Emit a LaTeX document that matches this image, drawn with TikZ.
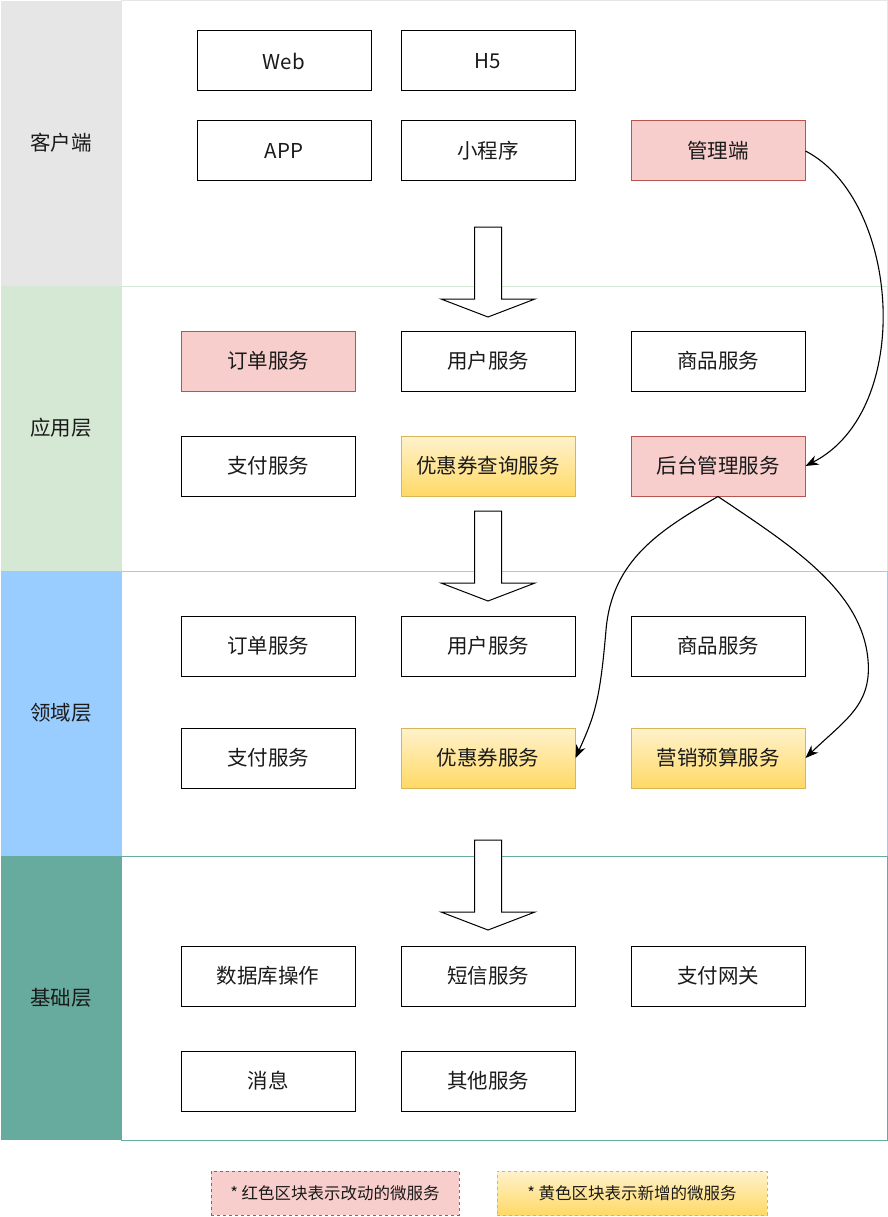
\documentclass[tikz,border=0pt]{standalone}
\usepackage{fontspec}
\setmainfont{Noto Sans CJK SC}
\usetikzlibrary{arrows.meta}
\definecolor{clientgray}{HTML}{E6E6E6}
\definecolor{appgreen}{HTML}{D5E8D4}
\definecolor{domainblue}{HTML}{99CCFF}
\definecolor{basegreen}{HTML}{67AB9F}
\definecolor{redfill}{HTML}{F8CECC}
\definecolor{redline}{HTML}{B85450}
\definecolor{yeltop}{HTML}{FFF2CC}
\definecolor{yelbot}{HTML}{FFD966}
\definecolor{yelline}{HTML}{D6B656}
\definecolor{txt}{HTML}{1A1A1A}

\tikzset{
  svc/.style={draw=black, line width=1pt, fill=white, minimum width=174pt,
    minimum height=60pt, inner sep=0pt, text=txt, font=\fontsize{20.5}{24}\selectfont},
  changed/.style={svc, draw=redline, fill=redfill},
  added/.style={svc, draw=yelline, top color=yeltop, bottom color=yelbot},
  layertitle/.style={text=txt, font=\fontsize{20.5}{24}\selectfont},
  legend/.style={draw, dashed, line width=0.8pt, minimum height=44pt, inner xsep=8pt,
    text=txt, font=\fontsize{16.5}{19}\selectfont},
  link/.style={line width=1.1pt, -{Stealth[length=13pt, width=10pt]}},
}

\begin{document}
\begin{tikzpicture}[x=1pt, y=-1pt]
\useasboundingbox (0,0) rectangle (888,1217);

% Layers: label column + content area
\foreach \ytop/\ybot/\col in {1/286/clientgray, 286/571/appgreen, 571/856/domainblue, 856/1140/basegreen} {
  \fill[\col] (1,\ytop) rectangle (121,\ybot);
  \draw[\col, line width=1pt] (121,\ytop) rectangle (887,\ybot);
}
\node[layertitle] (lclient) at (61,143) {客户端};
\node[layertitle] (lapp)    at (61,428) {应用层};
\node[layertitle] (ldomain) at (61,713) {领域层};
\node[layertitle] (lbase)   at (61,998) {基础层};

% Client
\node[svc] (web)   at (284,61)  {Web};
\node[svc] (h5)    at (488,61)  {H5};
\node[svc] (app)   at (284,151) {APP};
\node[svc] (mini)  at (488,151) {小程序};
\node[changed] (admin) at (718,151) {管理端};

% Application layer
\node[changed] (aorder) at (268,361) {订单服务};
\node[svc] (auser)  at (488,361) {用户服务};
\node[svc] (agoods) at (718,361) {商品服务};
\node[svc] (apay)   at (268,466) {支付服务};
\node[added] (aquery) at (488,466) {优惠券查询服务};
\node[changed] (backend) at (718,466) {后台管理服务};

% Domain layer
\node[svc] (dorder) at (268,646) {订单服务};
\node[svc] (duser)  at (488,646) {用户服务};
\node[svc] (dgoods) at (718,646) {商品服务};
\node[svc] (dpay)   at (268,758) {支付服务};
\node[added] (coupon) at (488,758) {优惠券服务};
\node[added] (budget) at (718,758) {营销预算服务};

% Base layer
\node[svc] (db)    at (268,976)  {数据库操作};
\node[svc] (sms)   at (488,976)  {短信服务};
\node[svc] (gate)  at (718,976)  {支付网关};
\node[svc] (msg)   at (268,1081) {消息};
\node[svc] (other) at (488,1081) {其他服务};

% Hollow arrows between layers
\foreach \t in {227, 511, 840} {
  \draw[line width=1pt, fill=white, line join=miter]
    (474.5,\t) -- (501.5,\t) -- (501.5,\t+72) -- (535,\t+72) -- (488,\t+90)
    -- (441,\t+72) -- (474.5,\t+72) -- cycle;
}

% Connectors
\draw[link] (admin.east) .. controls (900,200) and (915,410) .. (backend.east);
\draw[link] (backend.south) .. controls (660,530) and (612,560) .. (606,630)
  .. controls (600,700) and (595,715) .. (coupon.east);
\draw[link] (backend.south) .. controls (790,545) and (862,590) .. (868,660)
  .. controls (872,705) and (845,720) .. (budget.east);

% Legend
\node[legend, draw=redline, fill=redfill, minimum width=248pt] (lgred) at (335,1193)
  {* 红色区块表示改动的微服务};
\node[legend, draw=yelline, top color=yeltop, bottom color=yelbot, minimum width=270pt] (lgyel) at (632,1193)
  {* 黄色区块表示新增的微服务};

\end{tikzpicture}
\end{document}
